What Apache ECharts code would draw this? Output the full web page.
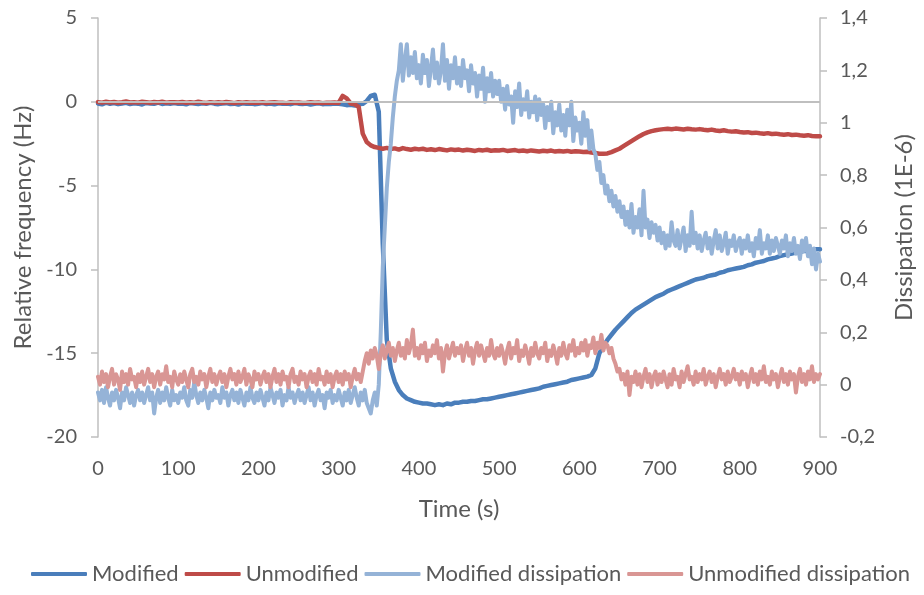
<!DOCTYPE html>
<html>
<head>
<meta charset="utf-8">
<script src="https://cdn.jsdelivr.net/npm/echarts@6/dist/echarts.min.js"></script>
<style>
  html, body { margin: 0; padding: 0; background: #fff; overflow: hidden; }
  #chart { width: 924px; height: 595px; }
</style>
</head>
<body>
<div id="chart"></div>
<script>
// QCM run: frequency shift (left axis) every 5 s, dissipation (right axis) every 2.5 s
const FREQ_STEP = 5;
const DISS_STEP = 2.5;
const timeFreq = [];
for (let i = 0; i * FREQ_STEP <= 900; i++) timeFreq.push(i * FREQ_STEP);
const timeDiss = [];
for (let i = 0; i * DISS_STEP <= 900; i++) timeDiss.push(i * DISS_STEP);

const seriesNames = ['Modified', 'Unmodified', 'Modified dissipation', 'Unmodified dissipation'];

// Relative frequency (Hz), one row per 100 s
const modifiedFreq = [
  -0.10,-0.15,-0.05,-0.12,-0.08,-0.14,-0.10,-0.06,-0.13,-0.09,-0.11,-0.16,-0.07,-0.10,-0.12,-0.05,-0.13,-0.09,-0.11,-0.08,
  -0.12,-0.10,-0.15,-0.07,-0.10,-0.13,-0.09,-0.12,-0.06,-0.11,-0.14,-0.10,-0.08,-0.13,-0.11,-0.16,-0.09,-0.12,-0.10,-0.14,
  -0.11,-0.08,-0.13,-0.10,-0.15,-0.09,-0.12,-0.10,-0.14,-0.07,-0.11,-0.13,-0.10,-0.16,-0.12,-0.09,-0.14,-0.11,-0.13,-0.10,
  -0.12,-0.15,-0.20,-0.18,-0.22,-0.15,-0.12,0.05,0.35,0.42,-0.60,-8.50,-14.2,-15.9,-16.7,-17.2,-17.5,-17.7,-17.8,-17.9,
  -17.95,-18.0,-18.0,-18.05,-18.1,-18.05,-18.1,-18.0,-18.05,-17.95,-17.95,-17.9,-17.9,-17.85,-17.85,-17.8,-17.75,-17.75,-17.7,-17.65,
  -17.6,-17.55,-17.5,-17.45,-17.4,-17.35,-17.3,-17.25,-17.2,-17.15,-17.1,-17.0,-16.95,-16.9,-16.85,-16.8,-16.75,-16.7,-16.6,-16.55,
  -16.5,-16.45,-16.4,-16.3,-15.9,-15.0,-14.6,-14.2,-13.9,-13.6,-13.35,-13.1,-12.85,-12.6,-12.4,-12.25,-12.1,-11.95,-11.8,-11.65,
  -11.55,-11.45,-11.3,-11.2,-11.1,-11.0,-10.9,-10.8,-10.7,-10.6,-10.55,-10.5,-10.4,-10.35,-10.3,-10.2,-10.15,-10.05,-10.0,-9.95,
  -9.9,-9.85,-9.75,-9.7,-9.6,-9.55,-9.5,-9.4,-9.35,-9.3,-9.2,-9.15,-9.1,-9.05,-9.0,-8.95,-8.9,-8.9,-8.85,-8.8,
  -8.8
];
const unmodifiedFreq = [
  -0.02,-0.05,0.00,-0.04,-0.01,-0.06,-0.03,0.02,-0.04,-0.02,-0.05,0.00,-0.03,-0.06,-0.01,-0.04,0.01,-0.05,-0.02,-0.03,
  -0.04,-0.01,-0.06,-0.03,-0.05,0.00,-0.04,-0.07,-0.02,-0.05,-0.03,-0.06,-0.01,-0.04,-0.08,-0.03,-0.05,-0.02,-0.06,-0.04,
  -0.05,-0.03,-0.07,-0.04,-0.02,-0.06,-0.05,-0.08,-0.03,-0.06,-0.04,-0.07,-0.05,-0.02,-0.06,-0.04,-0.08,-0.05,-0.06,-0.04,
  -0.07,0.35,0.20,-0.10,-0.15,-0.30,-1.90,-2.40,-2.60,-2.70,-2.75,-2.80,-2.75,-2.82,-2.78,-2.85,-2.76,-2.82,-2.86,-2.80,
  -2.84,-2.80,-2.87,-2.83,-2.88,-2.82,-2.86,-2.90,-2.84,-2.88,-2.85,-2.91,-2.86,-2.89,-2.93,-2.87,-2.90,-2.86,-2.92,-2.89,
  -2.91,-2.87,-2.93,-2.90,-2.88,-2.94,-2.91,-2.95,-2.90,-2.93,-2.96,-2.92,-2.95,-2.91,-2.97,-2.94,-2.96,-2.93,-2.98,-2.95,
  -2.97,-3.00,-2.98,-3.02,-3.05,-3.10,-3.10,-3.08,-3.00,-2.90,-2.80,-2.65,-2.50,-2.35,-2.20,-2.05,-1.92,-1.82,-1.75,-1.70,
  -1.66,-1.63,-1.61,-1.64,-1.60,-1.62,-1.65,-1.61,-1.64,-1.66,-1.63,-1.67,-1.70,-1.66,-1.71,-1.74,-1.70,-1.75,-1.78,-1.76,
  -1.80,-1.83,-1.81,-1.86,-1.84,-1.88,-1.90,-1.87,-1.92,-1.90,-1.94,-1.96,-1.93,-1.98,-1.96,-2.00,-2.02,-1.99,-2.04,-2.05,
  -2.06
];

// Dissipation (1E-6), one row per 50 s
const modifiedDiss = [
  -0.03,-0.06,-0.02,-0.07,-0.01,-0.05,-0.08,-0.03,-0.06,-0.02,-0.05,-0.09,-0.03,-0.06,-0.01,-0.04,-0.07,-0.03,-0.08,-0.04,
  -0.02,-0.06,-0.03,-0.07,-0.04,-0.01,-0.06,-0.03,-0.11,-0.05,-0.02,-0.07,-0.03,-0.06,-0.01,-0.05,-0.08,-0.02,-0.06,-0.04,
  -0.07,-0.03,-0.05,-0.01,-0.06,-0.08,-0.02,-0.05,0.01,-0.04,-0.07,-0.03,-0.06,-0.02,-0.05,-0.09,-0.03,-0.06,-0.02,-0.05,
  -0.04,-0.07,-0.01,-0.05,-0.03,-0.08,-0.04,-0.02,-0.06,-0.03,-0.07,-0.02,-0.05,-0.08,-0.03,-0.06,-0.01,-0.05,-0.07,-0.03,
  -0.06,-0.02,-0.05,-0.08,-0.03,-0.06,-0.01,-0.04,-0.07,-0.03,-0.05,-0.02,-0.08,-0.04,-0.06,-0.01,-0.05,-0.03,-0.07,-0.04,
  -0.02,-0.06,-0.03,-0.07,-0.04,-0.01,-0.06,-0.03,-0.08,-0.04,-0.02,-0.06,-0.04,-0.09,-0.03,-0.05,-0.02,-0.07,-0.04,-0.06,
  -0.02,-0.05,-0.08,-0.03,-0.06,-0.02,-0.07,-0.04,-0.01,-0.05,-0.08,-0.03,-0.06,-0.02,-0.07,-0.09,-0.11,-0.06,-0.03,-0.08,
  0.00,0.20,0.45,0.60,0.75,0.85,0.92,1.02,1.10,1.16,1.20,1.30,1.16,1.24,1.30,1.18,1.25,1.19,1.27,1.17,
  1.22,1.15,1.26,1.19,1.24,1.14,1.21,1.28,1.17,1.23,1.15,1.20,1.30,1.16,1.24,1.13,1.22,1.17,1.25,1.15,
  1.21,1.14,1.24,1.17,1.20,1.12,1.22,1.15,1.19,1.10,1.18,1.13,1.21,1.08,1.17,1.12,1.19,1.10,1.16,1.11,
  1.16,1.08,1.13,1.05,1.14,1.07,1.10,1.00,1.12,1.06,1.15,1.03,1.09,1.05,1.12,1.02,1.08,1.04,1.10,1.01,
  1.09,1.03,1.07,0.98,1.06,1.01,1.08,0.96,1.04,0.99,1.07,0.97,1.03,0.95,1.05,0.99,1.08,0.93,1.02,0.97,
  1.00,0.92,1.04,0.95,1.01,0.90,0.97,0.90,0.88,0.82,0.85,0.77,0.80,0.73,0.76,0.70,0.74,0.68,0.72,0.66,
  0.70,0.64,0.68,0.61,0.66,0.60,0.69,0.58,0.64,0.60,0.67,0.57,0.74,0.60,0.63,0.56,0.62,0.58,0.61,0.55,
  0.60,0.54,0.58,0.52,0.57,0.53,0.62,0.55,0.53,0.59,0.52,0.56,0.60,0.51,0.57,0.53,0.66,0.54,0.58,0.52,
  0.57,0.51,0.55,0.58,0.52,0.56,0.50,0.55,0.59,0.52,0.57,0.51,0.54,0.58,0.50,0.55,0.53,0.57,0.51,0.54,
  0.56,0.50,0.55,0.52,0.57,0.51,0.54,0.49,0.56,0.52,0.59,0.50,0.54,0.52,0.57,0.50,0.55,0.51,0.56,0.53,
  0.50,0.55,0.52,0.57,0.49,0.54,0.51,0.56,0.50,0.53,0.48,0.55,0.51,0.56,0.49,0.53,0.46,0.52,0.44,0.50,
  0.47
];
const unmodifiedDiss = [
  0.03,0.00,0.05,0.01,0.04,-0.01,0.03,0.06,0.00,0.04,0.02,-0.02,0.05,0.01,0.04,0.00,0.06,0.02,0.03,-0.01,
  0.04,0.01,0.05,0.00,0.03,0.06,0.01,0.04,-0.01,0.03,0.05,0.00,0.04,0.02,0.07,0.01,0.03,-0.01,0.05,0.02,
  0.00,0.04,0.01,0.05,0.02,-0.01,0.04,0.06,0.01,0.03,0.00,0.05,0.02,0.04,-0.01,0.03,0.06,0.01,0.04,0.00,
  0.03,0.05,0.01,0.04,-0.01,0.03,0.06,0.02,0.04,0.00,0.05,0.01,0.03,0.06,0.00,0.04,0.02,-0.01,0.05,0.02,
  0.04,0.00,0.03,0.05,0.01,0.04,-0.01,0.03,0.06,0.01,0.04,0.00,0.05,0.02,0.03,-0.01,0.04,0.06,0.01,0.03,
  0.00,0.05,0.02,0.04,-0.01,0.03,0.05,0.01,0.04,0.00,0.06,0.02,0.03,0.00,0.05,0.01,0.04,-0.01,0.03,0.05,
  0.01,0.04,0.00,0.05,0.02,0.04,-0.01,0.03,0.06,0.02,0.04,0.01,0.05,0.09,0.12,0.08,0.13,0.10,0.14,0.11,
  0.06,0.12,0.15,0.10,0.13,0.16,0.11,0.14,0.09,0.13,0.16,0.11,0.14,0.10,0.17,0.12,0.15,0.21,0.11,0.14,
  0.10,0.15,0.12,0.16,0.09,0.13,0.11,0.15,0.12,0.17,0.10,0.14,0.05,0.12,0.15,0.10,0.13,0.16,0.11,0.14,
  0.12,0.15,0.09,0.13,0.16,0.11,0.14,0.08,0.13,0.16,0.11,0.15,0.12,0.09,0.14,0.11,0.17,0.12,0.10,0.14,
  0.11,0.15,0.12,0.08,0.13,0.16,0.10,0.14,0.12,0.17,0.09,0.13,0.11,0.15,0.12,0.08,0.14,0.11,0.16,0.12,
  0.10,0.14,0.12,0.16,0.09,0.13,0.11,0.15,0.12,0.08,0.14,0.11,0.16,0.12,0.10,0.15,0.13,0.17,0.11,0.14,
  0.12,0.16,0.13,0.17,0.11,0.15,0.14,0.18,0.12,0.16,0.14,0.19,0.13,0.16,0.15,0.12,0.14,0.10,0.08,0.05,
  0.06,0.02,0.04,0.00,0.05,-0.04,0.03,0.01,0.05,0.00,0.04,-0.01,0.03,0.06,0.01,0.04,-0.01,0.03,0.05,0.00,
  0.04,0.01,0.05,0.02,-0.01,0.04,0.00,0.06,0.02,0.03,-0.01,0.05,0.01,0.04,0.07,0.02,0.03,0.00,0.05,0.01,
  0.04,0.02,0.06,0.00,0.03,0.05,0.01,0.04,-0.01,0.03,0.06,0.02,0.04,0.00,0.05,0.01,0.03,0.06,0.02,0.04,
  0.00,0.05,0.02,0.04,-0.01,0.03,0.06,0.01,0.04,0.00,0.05,0.02,0.07,0.01,0.03,0.00,0.05,0.02,0.04,-0.01,
  0.03,0.06,0.01,0.04,0.00,0.05,0.02,0.04,-0.03,0.03,0.06,0.01,0.04,0.00,0.05,0.02,0.07,0.01,0.04,0.02,
  0.04
];

const FONT = 'Lato, "Open Sans", sans-serif';
const TEXT = '#595959';
const AXIS = '#BFBFBF';
const colors = ['#4A7EBB', '#BE4B48', '#95B3D7', '#D99694'];

const pairs = (times, vals) => times.map((t, i) => [t, vals[i]]);
const commaDecimal = v => String(Math.round(v * 10) / 10).replace('.', ',');

const chart = echarts.init(document.getElementById('chart'), null, { renderer: 'canvas' });

function lineSeries(name, times, vals, axisIndex, color, width, z) {
  return {
    name, type: 'line', yAxisIndex: axisIndex, data: pairs(times, vals),
    showSymbol: false, symbol: 'none', z,
    lineStyle: { color, width, cap: 'round', join: 'round' },
    itemStyle: { color },
    emphasis: { disabled: true }
  };
}

chart.setOption({
  animation: false,
  textStyle: { fontFamily: FONT, color: TEXT },
  grid: { left: 98, right: 99, top: 18, bottom: 158, containLabel: false },
  legend: {
    data: seriesNames,
    bottom: 5,
    left: 26,
    icon: 'roundRect',
    itemWidth: 56, itemHeight: 4, itemGap: 6,
    textStyle: { fontFamily: FONT, fontSize: 22, color: TEXT }
  },
  xAxis: {
    type: 'value', min: 0, max: 900, interval: 100,
    name: 'Time (s)', nameLocation: 'middle', nameGap: 60,
    nameTextStyle: { fontFamily: FONT, fontSize: 24, color: TEXT },
    axisLine: { show: false }, axisTick: { show: false }, splitLine: { show: false },
    axisLabel: { margin: 22, fontSize: 20, color: TEXT, fontFamily: FONT }
  },
  yAxis: [
    {
      type: 'value', min: -20, max: 5, interval: 5, position: 'left',
      name: 'Relative frequency (Hz)', nameLocation: 'middle', nameGap: 62, nameRotate: 90,
      nameTextStyle: { fontFamily: FONT, fontSize: 24, color: TEXT },
      axisLine: { show: true, lineStyle: { color: AXIS, width: 1.5 } },
      axisTick: { show: true, length: 7, lineStyle: { color: AXIS, width: 1.5 } },
      splitLine: { show: false },
      axisLabel: { margin: 21, fontSize: 20, color: TEXT, fontFamily: FONT }
    },
    {
      type: 'value', min: -0.2, max: 1.4, interval: 0.2, position: 'right',
      name: 'Dissipation (1E-6)', nameLocation: 'middle', nameGap: 72, nameRotate: 90,
      nameTextStyle: { fontFamily: FONT, fontSize: 24, color: TEXT },
      axisLine: { show: true, lineStyle: { color: AXIS, width: 1.5 } },
      axisTick: { show: true, length: 7, lineStyle: { color: AXIS, width: 1.5 } },
      splitLine: { show: false },
      axisLabel: { margin: 20, fontSize: 20, color: TEXT, fontFamily: FONT, formatter: commaDecimal }
    }
  ],
  series: [
    {
      // horizontal baseline at 0 Hz
      name: 'baseline', type: 'line', yAxisIndex: 0, data: [], z: 1, silent: true,
      markLine: {
        silent: true, symbol: 'none', animation: false,
        label: { show: false },
        lineStyle: { color: AXIS, width: 2, type: 'solid' },
        data: [{ yAxis: 0 }]
      }
    },
    lineSeries('Modified', timeFreq, modifiedFreq, 0, colors[0], 4.5, 2),
    lineSeries('Unmodified', timeFreq, unmodifiedFreq, 0, colors[1], 4.5, 3),
    lineSeries('Modified dissipation', timeDiss, modifiedDiss, 1, colors[2], 4, 4),
    lineSeries('Unmodified dissipation', timeDiss, unmodifiedDiss, 1, colors[3], 4, 5)
  ]
});
</script>
</body>
</html>
